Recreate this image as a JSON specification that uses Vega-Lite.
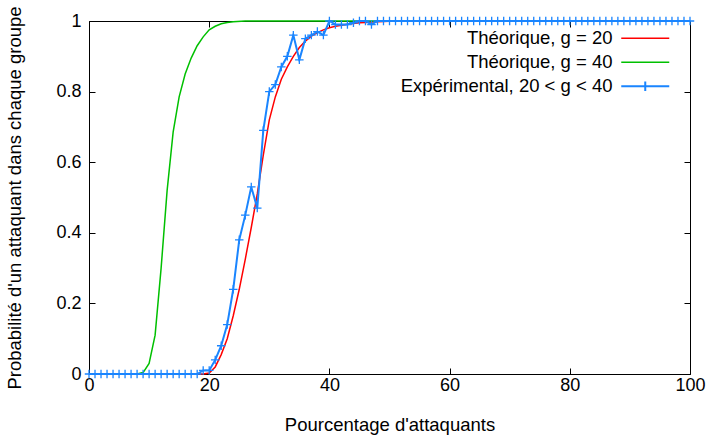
{
  "$schema": "https://vega.github.io/schema/vega-lite/v6.json",
  "autosize": "none",
  "width": 601,
  "height": 353,
  "padding": {"left": 89, "top": 21, "right": 19, "bottom": 61},
  "background": "white",
  "config": {
    "font": "Liberation Sans",
    "view": {"stroke": "#000000", "strokeWidth": 1},
    "axis": {"labelFont": "Liberation Sans", "titleFont": "Liberation Sans", "labelFontSize": 18, "titleFontSize": 18.5, "labelColor": "#000", "titleColor": "#000", "titleFontWeight": "normal", "grid": false, "domain": false, "tickColor": "#000", "tickSize": -6, "tickWidth": 1, "labelFlush": false}
  },
  "datasets": {
    "theo": [
      {"x": 0, "y": 0, "s": "Théorique, g = 20"},
      {"x": 10, "y": 0, "s": "Théorique, g = 20"},
      {"x": 19, "y": 0, "s": "Théorique, g = 20"},
      {"x": 20, "y": 0.003, "s": "Théorique, g = 20"},
      {"x": 21, "y": 0.02, "s": "Théorique, g = 20"},
      {"x": 22, "y": 0.055, "s": "Théorique, g = 20"},
      {"x": 23, "y": 0.1, "s": "Théorique, g = 20"},
      {"x": 24, "y": 0.165, "s": "Théorique, g = 20"},
      {"x": 25, "y": 0.24, "s": "Théorique, g = 20"},
      {"x": 26, "y": 0.325, "s": "Théorique, g = 20"},
      {"x": 27, "y": 0.415, "s": "Théorique, g = 20"},
      {"x": 28, "y": 0.51, "s": "Théorique, g = 20"},
      {"x": 29, "y": 0.62, "s": "Théorique, g = 20"},
      {"x": 30, "y": 0.72, "s": "Théorique, g = 20"},
      {"x": 31, "y": 0.785, "s": "Théorique, g = 20"},
      {"x": 32, "y": 0.835, "s": "Théorique, g = 20"},
      {"x": 33, "y": 0.87, "s": "Théorique, g = 20"},
      {"x": 34, "y": 0.9, "s": "Théorique, g = 20"},
      {"x": 35, "y": 0.925, "s": "Théorique, g = 20"},
      {"x": 36, "y": 0.943, "s": "Théorique, g = 20"},
      {"x": 37, "y": 0.957, "s": "Théorique, g = 20"},
      {"x": 38, "y": 0.967, "s": "Théorique, g = 20"},
      {"x": 39, "y": 0.975, "s": "Théorique, g = 20"},
      {"x": 40, "y": 0.981, "s": "Théorique, g = 20"},
      {"x": 41, "y": 0.985, "s": "Théorique, g = 20"},
      {"x": 42, "y": 0.988, "s": "Théorique, g = 20"},
      {"x": 43, "y": 0.991, "s": "Théorique, g = 20"},
      {"x": 44, "y": 0.993, "s": "Théorique, g = 20"},
      {"x": 45, "y": 0.995, "s": "Théorique, g = 20"},
      {"x": 46, "y": 0.996, "s": "Théorique, g = 20"},
      {"x": 47, "y": 0.997, "s": "Théorique, g = 20"},
      {"x": 48, "y": 0.998, "s": "Théorique, g = 20"},
      {"x": 50, "y": 0.999, "s": "Théorique, g = 20"},
      {"x": 52, "y": 1, "s": "Théorique, g = 20"},
      {"x": 60, "y": 1, "s": "Théorique, g = 20"},
      {"x": 70, "y": 1, "s": "Théorique, g = 20"},
      {"x": 80, "y": 1, "s": "Théorique, g = 20"},
      {"x": 90, "y": 1, "s": "Théorique, g = 20"},
      {"x": 100, "y": 1, "s": "Théorique, g = 20"},
      {"x": 0, "y": 0, "s": "Théorique, g = 40"},
      {"x": 5, "y": 0, "s": "Théorique, g = 40"},
      {"x": 8, "y": 0, "s": "Théorique, g = 40"},
      {"x": 9, "y": 0.004, "s": "Théorique, g = 40"},
      {"x": 10, "y": 0.03, "s": "Théorique, g = 40"},
      {"x": 11, "y": 0.11, "s": "Théorique, g = 40"},
      {"x": 12, "y": 0.3, "s": "Théorique, g = 40"},
      {"x": 13, "y": 0.52, "s": "Théorique, g = 40"},
      {"x": 14, "y": 0.685, "s": "Théorique, g = 40"},
      {"x": 15, "y": 0.785, "s": "Théorique, g = 40"},
      {"x": 16, "y": 0.85, "s": "Théorique, g = 40"},
      {"x": 17, "y": 0.895, "s": "Théorique, g = 40"},
      {"x": 18, "y": 0.93, "s": "Théorique, g = 40"},
      {"x": 19, "y": 0.955, "s": "Théorique, g = 40"},
      {"x": 20, "y": 0.975, "s": "Théorique, g = 40"},
      {"x": 21, "y": 0.985, "s": "Théorique, g = 40"},
      {"x": 22, "y": 0.992, "s": "Théorique, g = 40"},
      {"x": 23, "y": 0.996, "s": "Théorique, g = 40"},
      {"x": 24, "y": 0.998, "s": "Théorique, g = 40"},
      {"x": 26, "y": 1, "s": "Théorique, g = 40"},
      {"x": 40, "y": 1, "s": "Théorique, g = 40"},
      {"x": 60, "y": 1, "s": "Théorique, g = 40"},
      {"x": 80, "y": 1, "s": "Théorique, g = 40"},
      {"x": 100, "y": 1, "s": "Théorique, g = 40"}
    ],
    "exp": [
      {"x": 0, "y": 0}, {"x": 1, "y": 0}, {"x": 2, "y": 0}, {"x": 3, "y": 0}, {"x": 4, "y": 0},
      {"x": 5, "y": 0}, {"x": 6, "y": 0}, {"x": 7, "y": 0}, {"x": 8, "y": 0}, {"x": 9, "y": 0},
      {"x": 10, "y": 0}, {"x": 11, "y": 0}, {"x": 12, "y": 0}, {"x": 13, "y": 0}, {"x": 14, "y": 0},
      {"x": 15, "y": 0}, {"x": 16, "y": 0}, {"x": 17, "y": 0}, {"x": 18, "y": 0}, {"x": 19, "y": 0.01},
      {"x": 20, "y": 0.01}, {"x": 21, "y": 0.04}, {"x": 22, "y": 0.08}, {"x": 23, "y": 0.14}, {"x": 24, "y": 0.24},
      {"x": 25, "y": 0.38}, {"x": 26, "y": 0.45}, {"x": 27, "y": 0.53}, {"x": 28, "y": 0.47}, {"x": 29, "y": 0.69},
      {"x": 30, "y": 0.8}, {"x": 31, "y": 0.82}, {"x": 32, "y": 0.87}, {"x": 33, "y": 0.9}, {"x": 34, "y": 0.96},
      {"x": 35, "y": 0.89}, {"x": 36, "y": 0.95}, {"x": 37, "y": 0.96}, {"x": 38, "y": 0.97}, {"x": 39, "y": 0.96},
      {"x": 40, "y": 1}, {"x": 41, "y": 0.99}, {"x": 42, "y": 0.99}, {"x": 43, "y": 0.99}, {"x": 44, "y": 0.995},
      {"x": 45, "y": 1}, {"x": 46, "y": 1}, {"x": 47, "y": 0.99}, {"x": 48, "y": 1}, {"x": 49, "y": 1},
      {"x": 50, "y": 1}, {"x": 51, "y": 1}, {"x": 52, "y": 1}, {"x": 53, "y": 1}, {"x": 54, "y": 1},
      {"x": 55, "y": 1}, {"x": 56, "y": 1}, {"x": 57, "y": 1}, {"x": 58, "y": 1}, {"x": 59, "y": 1},
      {"x": 60, "y": 1}, {"x": 61, "y": 1}, {"x": 62, "y": 1}, {"x": 63, "y": 1}, {"x": 64, "y": 1},
      {"x": 65, "y": 1}, {"x": 66, "y": 1}, {"x": 67, "y": 1}, {"x": 68, "y": 1}, {"x": 69, "y": 1},
      {"x": 70, "y": 1}, {"x": 71, "y": 1}, {"x": 72, "y": 1}, {"x": 73, "y": 1}, {"x": 74, "y": 1},
      {"x": 75, "y": 1}, {"x": 76, "y": 1}, {"x": 77, "y": 1}, {"x": 78, "y": 1}, {"x": 79, "y": 1},
      {"x": 80, "y": 1}, {"x": 81, "y": 1}, {"x": 82, "y": 1}, {"x": 83, "y": 1}, {"x": 84, "y": 1},
      {"x": 85, "y": 1}, {"x": 86, "y": 1}, {"x": 87, "y": 1}, {"x": 88, "y": 1}, {"x": 89, "y": 1},
      {"x": 90, "y": 1}, {"x": 91, "y": 1}, {"x": 92, "y": 1}, {"x": 93, "y": 1}, {"x": 94, "y": 1},
      {"x": 95, "y": 1}, {"x": 96, "y": 1}, {"x": 97, "y": 1}, {"x": 98, "y": 1}, {"x": 99, "y": 1},
      {"x": 100, "y": 1}
    ]
  },
  "layer": [
    {
      "data": {"name": "theo"},
      "mark": {"type": "line", "strokeWidth": 1.5, "clip": false},
      "encoding": {
        "x": {"field": "x", "type": "quantitative", "scale": {"domain": [0, 100], "nice": false}, "axis": {"orient": "bottom", "values": [0, 20, 40, 60, 80, 100], "format": "d", "title": "Pourcentage d'attaquants", "labelPadding": 8, "titlePadding": 21}},
        "y": {"field": "y", "type": "quantitative", "scale": {"domain": [0, 1], "nice": false}, "axis": {"orient": "left", "values": [0, 0.2, 0.4, 0.6, 0.8, 1], "format": "~r", "title": "Probabilité d'un attaquant dans chaque groupe", "labelPadding": 14, "titlePadding": 31}},
        "color": {
          "field": "s", "type": "nominal",
          "scale": {"domain": ["Théorique, g = 20", "Théorique, g = 40", "Expérimental, 20 < g < 40"], "range": ["#ff0000", "#00c000", "#1a85ff"]},
          "legend": {
            "title": null, "orient": "none", "legendX": 547, "legendY": 8, "padding": 0,
            "labelFontSize": 18.5, "labelFont": "Liberation Sans", "labelColor": "#000", "labelLimit": 500,
            "labelAlign": "right", "labelOffset": -42, "rowPadding": 5,
            "symbolSize": 36, "symbolType": "M-8,0H8", "symbolStrokeWidth": 1.5, "symbolFillColor": "transparent",
            "encode": {"symbols": {"update": {"shape": {"signal": "datum.label === 'Expérimental, 20 < g < 40' ? 'M-8,0H8M0,-1.6V1.6' : 'M-8,0H8'"}, "strokeWidth": {"signal": "datum.label === 'Expérimental, 20 < g < 40' ? 2 : 1.5"}}}}
          }
        }
      }
    },
    {
      "data": {"name": "exp"},
      "transform": [{"calculate": "'Expérimental, 20 < g < 40'", "as": "s"}],
      "mark": {"type": "line", "strokeWidth": 2, "clip": false, "point": {"shape": "M-1,0H1M0,-1V1", "size": 72, "filled": false, "strokeWidth": 1.3, "color": "#1a85ff"}},
      "encoding": {
        "x": {"field": "x", "type": "quantitative", "axis": {"orient": "top", "values": [0, 20, 40, 60, 80, 100], "labels": false, "title": null}},
        "y": {"field": "y", "type": "quantitative", "axis": {"orient": "right", "values": [0, 0.2, 0.4, 0.6, 0.8, 1], "labels": false, "title": null}},
        "color": {"field": "s", "type": "nominal"}
      }
    }
  ],
  "resolve": {"axis": {"x": "independent", "y": "independent"}}
}
